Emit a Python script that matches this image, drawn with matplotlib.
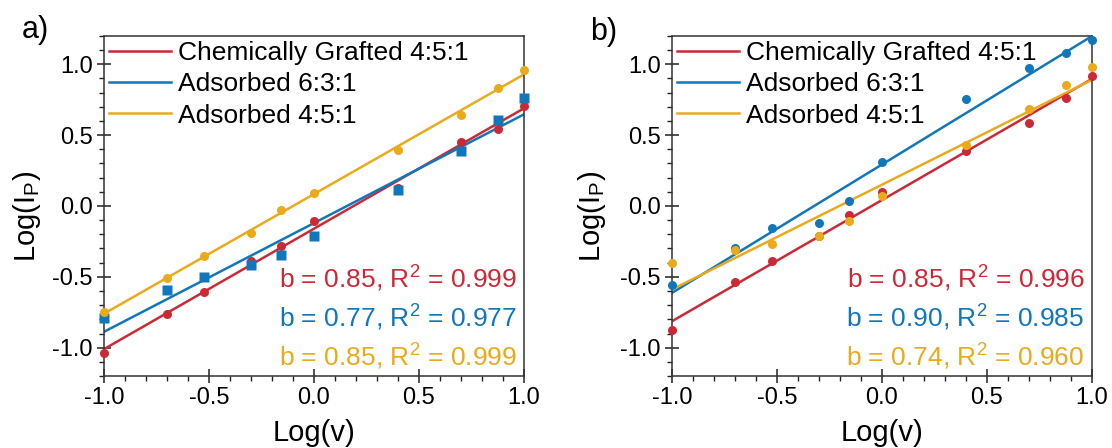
import matplotlib
matplotlib.use('Agg')
import matplotlib.pyplot as plt
from matplotlib.ticker import MultipleLocator
import numpy as np

# log of scan rate (shared by all series)
log_v = [-1.0, -0.699, -0.523, -0.301, -0.155, 0.0, 0.398, 0.699, 0.875, 1.0]

# panel a) log of peak current
a_grafted_451 = [-1.04, -0.76, -0.61, -0.385, -0.285, -0.104, 0.13, 0.45, 0.545, 0.705]
a_adsorbed_631 = [-0.79, -0.59, -0.50, -0.42, -0.345, -0.21, 0.115, 0.39, 0.605, 0.765]
a_adsorbed_451 = [-0.75, -0.51, -0.355, -0.19, -0.026, 0.094, 0.393, 0.64, 0.835, 0.96]

# panel b) log of peak current
b_grafted_451 = [-0.875, -0.54, -0.39, -0.21, -0.066, 0.096, 0.386, 0.586, 0.763, 0.92]
b_adsorbed_631 = [-0.556, -0.30, -0.153, -0.118, 0.032, 0.31, 0.757, 0.976, 1.078, 1.17]
b_adsorbed_451 = [-0.40, -0.31, -0.27, -0.21, -0.109, 0.068, 0.433, 0.687, 0.853, 0.98]

labels = ['Chemically Grafted 4:5:1', 'Adsorbed 6:3:1', 'Adsorbed 4:5:1']
a_fits = ['b = 0.85, R$^2$ = 0.999', 'b = 0.77, R$^2$ = 0.977', 'b = 0.85, R$^2$ = 0.999']
b_fits = ['b = 0.85, R$^2$ = 0.996', 'b = 0.90, R$^2$ = 0.985', 'b = 0.74, R$^2$ = 0.960']

colors = ['#CC2936', '#1177BB', '#EBAA1A']

plt.rcParams['font.family'] = ['Liberation Sans', 'DejaVu Sans']
plt.rcParams['mathtext.fontset'] = 'custom'
plt.rcParams['mathtext.rm'] = 'Liberation Sans'
plt.rcParams['mathtext.it'] = 'Liberation Sans'
plt.rcParams['mathtext.default'] = 'regular'
plt.rcParams['axes.unicode_minus'] = False


def draw_panel(ax, series, markers, fit_texts):
    x = np.array(log_v)
    xx = np.array([-1.0, 1.0])
    handles = []
    for y, m, c, lab in zip(series, markers, colors, labels):
        ax.plot(x, y, m, color=c, ms=6.5, mec='none', clip_on=False, zorder=3)
        k, b0 = np.polyfit(x, y, 1)
        h, = ax.plot(xx, k * xx + b0, '-', color=c, lw=1.8, label=lab, zorder=2)
        handles.append(h)

    ax.set_xlim(-1, 1)
    ax.set_ylim(-1.2, 1.2)
    ax.xaxis.set_major_locator(MultipleLocator(0.5))
    ax.xaxis.set_minor_locator(MultipleLocator(0.1))
    ax.yaxis.set_major_locator(MultipleLocator(0.5))
    ax.yaxis.set_minor_locator(MultipleLocator(0.1))
    ax.tick_params(which='major', direction='inout', length=10.5, width=1.1,
                   color='#222222', labelsize=17, pad=3)
    ax.tick_params(which='minor', direction='out', length=3.6, width=1.0,
                   color='#222222')
    for s in ax.spines.values():
        s.set_linewidth(1.1)
        s.set_color('#333333')

    ax.set_xlabel('Log(v)', fontsize=21)
    ax.set_ylabel('Log(I$_P$)', fontsize=21)
    ax.xaxis.set_label_coords(0.5, -0.125)

    ax.legend(handles=handles, loc='upper left', frameon=False, fontsize=19,
              handlelength=2.35, handletextpad=0.25, labelspacing=0.27,
              borderaxespad=0.1, borderpad=0.1)

    for t, c, yy in zip(fit_texts, colors, [0.259, 0.145, 0.029]):
        ax.text(0.982, yy, t, color=c, fontsize=19, ha='right', va='baseline',
                transform=ax.transAxes)


fig = plt.figure(figsize=(11.12, 4.48), dpi=100)
ax1 = fig.add_axes([0.0935, 0.1607, 0.3777, 0.759])
ax2 = fig.add_axes([0.6043, 0.1607, 0.3777, 0.759])

draw_panel(ax1, [a_grafted_451, a_adsorbed_631, a_adsorbed_451], ['o', 's', 'o'], a_fits)
draw_panel(ax2, [b_grafted_451, b_adsorbed_631, b_adsorbed_451], ['o', 'o', 'o'], b_fits)

ax1.yaxis.set_label_coords(-0.145, 0.47)
ax2.yaxis.set_label_coords(-0.152, 0.47)

fig.text(22 / 1112, 1 - 38 / 448, 'a)', fontsize=22, va='baseline')
fig.text(590 / 1112, 1 - 40 / 448, 'b)', fontsize=22, va='baseline')

fig.savefig('out.png', dpi=100)
plt.close(fig)
